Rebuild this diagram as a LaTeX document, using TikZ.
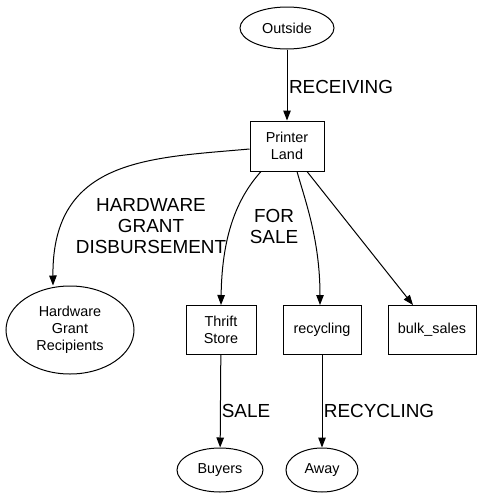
\documentclass[tikz,border=0pt]{standalone}
\usepackage{fontspec}
\setmainfont{Liberation Sans}
\usetikzlibrary{shapes.geometric,arrows.meta}
\begin{document}
\begin{tikzpicture}[x=1pt,y=-1pt,
  every node/.style={inner sep=0pt,align=center},
  box/.style={draw,line width=1pt,rectangle,font=\fontsize{14.4}{17}\selectfont},
  oval/.style={draw,line width=1pt,ellipse,font=\fontsize{14.4}{17}\selectfont},
  lbl/.style={font=\fontsize{18.9}{21}\selectfont},
  edge/.style={line width=1pt,-{Triangle[length=10pt,width=7.5pt]}}]
\useasboundingbox (0,0) rectangle (483,501);
\node[oval,minimum width=94pt,minimum height=42pt] (out) at (287,28) {Outside};
\node[box,minimum width=74pt,minimum height=50pt] (pl) at (287,146) {Printer\\Land};
\node[oval,minimum width=128pt,minimum height=88pt] (hgr) at (70,330) {Hardware\\Grant\\Recipients};
\node[box,minimum width=70pt,minimum height=49pt] (ts) at (221,330) {Thrift\\Store};
\node[box,minimum width=78pt,minimum height=49pt] (rec) at (322,330) {recycling};
\node[box,minimum width=88pt,minimum height=49pt] (bulk) at (432,330) {bulk\_sales};
\node[oval,minimum width=86pt,minimum height=44pt] (buy) at (220,470) {Buyers};
\node[oval,minimum width=72pt,minimum height=44pt] (away) at (322,470) {Away};

\draw[edge] (out) -- (pl);
\draw[edge] (pl.west |- 0,149) .. controls (150,158) and (52,158) .. (hgr.north -| 53,0);
\draw[edge] (pl.south -| 261,0) .. controls (240,195) and (222,230) .. (ts.north);
\draw[edge] (pl.south -| 297,0) .. controls (305,200) and (320,240) .. (rec.north -| 320,0);
\draw[edge] (pl.south -| 307,0) -- (bulk.north -| 413,0);
\draw[edge] (ts) -- (buy);
\draw[edge] (rec) -- (away);

\node[lbl] (l1) at (341,87) {RECEIVING};
\node[lbl] (l2) at (151,226) {HARDWARE\\GRANT\\DISBURSEMENT};
\node[lbl] (l3) at (274,226) {FOR\\SALE};
\node[lbl] (l4) at (246,411) {SALE};
\node[lbl] (l5) at (379,411) {RECYCLING};
\end{tikzpicture}
\end{document}
